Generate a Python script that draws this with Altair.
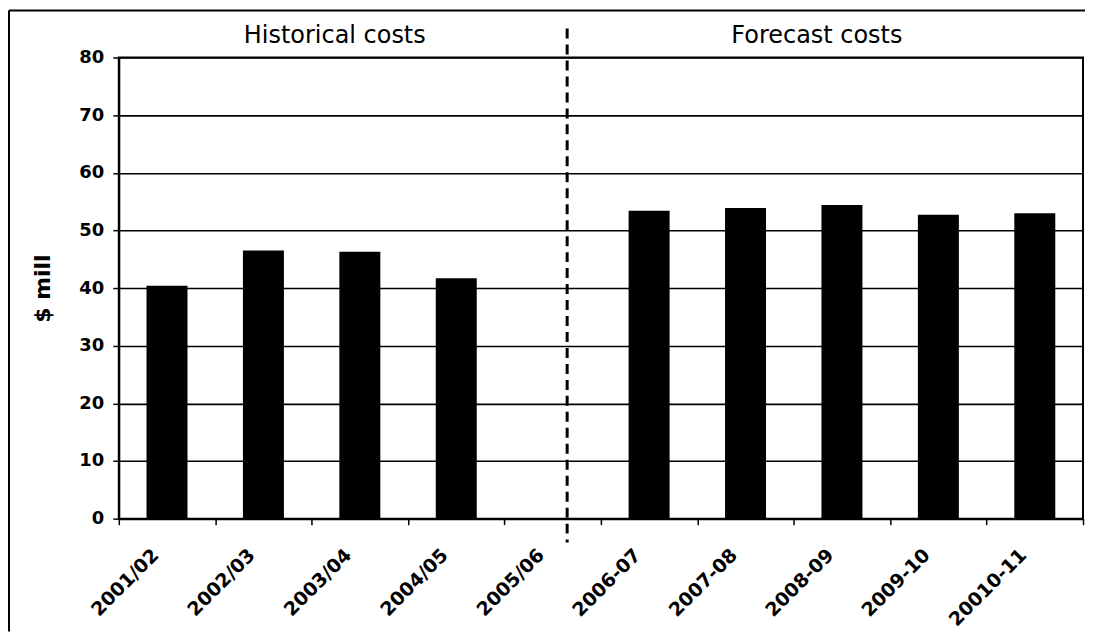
import altair as alt
import pandas as pd

categories = ["2001/02", "2002/03", "2003/04", "2004/05", "2005/06",
              "2006-07", "2007-08", "2008-09", "2009-10", "20010-11"]
values = [40.4, 46.5, 46.3, 41.7, 0, 53.4, 53.9, 54.4, 52.7, 53.0]
section_titles = ["Historical costs", "Forecast costs"]
section_anchor = ["2003/04", "2008-09"]
divider_at = ["2005/06"]
y_ticks = [0, 10, 20, 30, 40, 50, 60, 70, 80]

FONT = "DejaVu Sans"

df = pd.DataFrame({"period": categories, "cost": values})
titles_df = pd.DataFrame({"period": section_anchor, "label": section_titles})
div_df = pd.DataFrame({"period": divider_at})

x_scale = alt.Scale(domain=categories, paddingInner=0, paddingOuter=0)
y_scale = alt.Scale(domain=[0, 80], nice=False)

x_axis = alt.Axis(
    title=None, labelAngle=-45, labelAlign="right", labelBaseline="middle",
    labelFont=FONT, labelFontWeight="bold", labelFontSize=19, labelColor="black",
    labelPadding=27, labelOffset=-12, tickBand="extent", tickSize=6,
    tickColor="black", tickWidth=1.5, domainColor="black", domainWidth=2,
    grid=False,
)
y_axis = alt.Axis(
    values=y_ticks, title="$ mill", titleFont=FONT, titleFontWeight="bold",
    titleFontSize=22, titleColor="black", titleAngle=270, titleX=-76, titleY=231,
    titleAlign="center", titleBaseline="middle",
    labelFont=FONT, labelFontWeight="bold", labelFontSize=18, labelColor="black",
    labelPadding=9, tickSize=6, tickColor="black", tickWidth=1.5,
    domainColor="black", domainWidth=2,
    grid=True, gridColor="black", gridWidth=1.6, gridOpacity=1,
)

bars = alt.Chart(df).mark_bar(color="black", width=alt.RelativeBandSize(0.425)).encode(
    x=alt.X("period:N", scale=x_scale, sort=categories, axis=x_axis),
    y=alt.Y("cost:Q", scale=y_scale, axis=y_axis),
)

titles = alt.Chart(titles_df).mark_text(
    font=FONT, fontSize=24, color="black", align="center", baseline="alphabetic"
).encode(
    x=alt.X("period:N", scale=x_scale, sort=categories, bandPosition=0.24),
    y=alt.value(-15),
    text="label:N",
)

divider = alt.Chart(div_df).mark_rule(
    color="black", strokeWidth=3, strokeDash=[10, 6]
).encode(
    x=alt.X("period:N", scale=x_scale, sort=categories, bandPosition=0.65),
    y=alt.value(-29),
    y2=alt.value(486),
)

frame_left = alt.Chart(div_df).mark_rule(color="black", strokeWidth=2).encode(
    x=alt.value(-110), y=alt.value(-47), y2=alt.value(575)
)
frame_top = alt.Chart(div_df).mark_rule(color="black", strokeWidth=2).encode(
    x=alt.value(-110), x2=alt.value(1000), y=alt.value(-47)
)

chart = alt.layer(bars, titles, divider, frame_left, frame_top).properties(
    width=966, height=462,
    autosize=alt.AutoSizeParams(type="none"),
    padding={"left": 111, "top": 49, "right": 2, "bottom": 122},
    background="white",
).configure_view(stroke="black", strokeWidth=2)

chart.save("out.html", embed_options={"renderer": "svg", "actions": False})
